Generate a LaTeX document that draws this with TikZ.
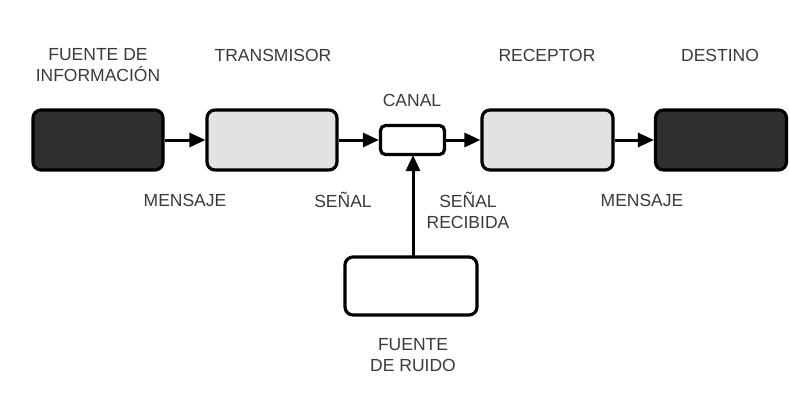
\documentclass[tikz,border=0pt]{standalone}
\usepackage{fontspec}
\setmainfont{Liberation Sans}
\usetikzlibrary{arrows.meta}
\definecolor{txt}{HTML}{3A3A3A}
\definecolor{darkbox}{HTML}{2F2F2F}
\definecolor{lightbox}{HTML}{E2E2E2}
\begin{document}
\begin{tikzpicture}[x=1pt,y=1pt,
  blk/.style={draw=black,line width=3.2pt,rounded corners=8pt,inner sep=0pt},
  lbl/.style={text=txt,font=\fontsize{17.5}{21}\selectfont,align=center,inner sep=0pt},
  conn/.style={draw=black,line width=3pt,-{Triangle[length=16pt,width=14pt]}}]
\useasboundingbox[fill=white] (0,0) rectangle (790,-392);
\node[blk,fill=darkbox,minimum width=130pt,minimum height=60pt] (src) at (98,-140) {};
\node[blk,fill=lightbox,minimum width=130pt,minimum height=60pt] (tx) at (272,-140) {};
\node[blk,fill=white,minimum width=64pt,minimum height=29pt,rounded corners=5pt] (ch) at (412.5,-140) {};
\node[blk,fill=lightbox,minimum width=131pt,minimum height=60pt] (rx) at (547.5,-140) {};
\node[blk,fill=darkbox,minimum width=131pt,minimum height=60pt] (dst) at (721,-140) {};
\node[blk,fill=white,minimum width=132pt,minimum height=58pt] (nz) at (411,-286) {};
\coordinate (nzt) at (413,-257);
\coordinate (chb) at (413,-155);
\draw[conn] (src.east) -- (tx.west);
\draw[conn] (tx.east) -- (ch.west);
\draw[conn] (ch.east) -- (rx.west);
\draw[conn] (rx.east) -- (dst.west);
\draw[conn] (nzt) -- (chb);
\node[lbl] (lsrc) at (98,-65) {FUENTE DE\\INFORMACIÓN};
\node[lbl] (ltx) at (273,-55) {TRANSMISOR};
\node[lbl] (lch) at (412,-100) {CANAL};
\node[lbl] (lrx) at (547,-55) {RECEPTOR};
\node[lbl] (ldst) at (720,-55) {DESTINO};
\node[lbl] (lm1) at (185,-200) {MENSAJE};
\node[lbl] (ls) at (343,-200) {SEÑAL};
\node[lbl] (lsr) at (468,-210) {SEÑAL\\RECIBIDA};
\node[lbl] (lm2) at (642,-200) {MENSAJE};
\node[lbl] (lnz) at (413,-355) {FUENTE\\DE RUIDO};
\end{tikzpicture}
\end{document}
